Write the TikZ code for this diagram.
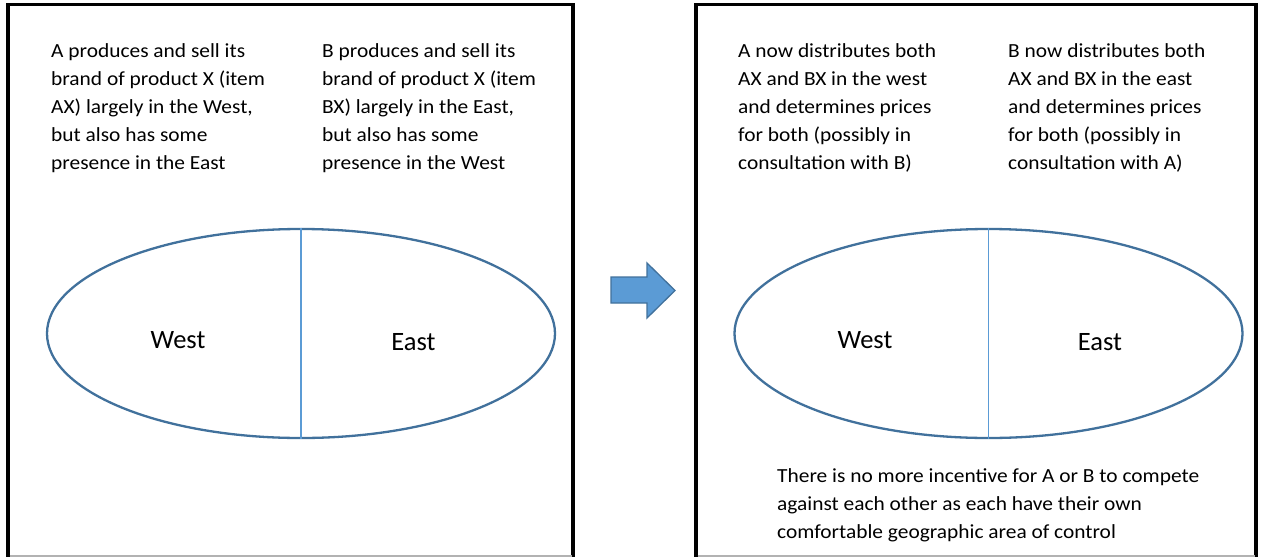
\documentclass[tikz,border=0pt]{standalone}
\usepackage{fontspec}
\setmainfont{Carlito}
\usetikzlibrary{shapes.geometric}
\definecolor{outlineblue}{HTML}{41719C}
\definecolor{fillblue}{HTML}{5B9BD5}
\begin{document}
\begin{tikzpicture}[x=1pt,y=-1pt,
  panel/.style={draw=black,line width=3.5pt},
  region/.style={ellipse,draw=outlineblue,line width=2.3pt,inner sep=0pt,
    minimum width=508pt,minimum height=209pt},
  divider/.style={draw=fillblue,line width=1.3pt},
  para/.style={anchor=base west,align=left,inner sep=0pt,xscale=1.07,
    font=\fontsize{20pt}{28pt}\selectfont},
  side/.style={font=\fontsize{26.5pt}{28pt}\selectfont,inner sep=0pt}]
\useasboundingbox (0,0) rectangle (1264,557);
\fill[white] (0,0) rectangle (1264,557);

% the two panels, open at the bottom with a thin grey edge
\draw[panel] (8,558) -- (8,4.5) -- (573,4.5) -- (573,558);
\draw[panel] (696,558) -- (696,4.5) -- (1256,4.5) -- (1256,558);
\draw[gray!60,line width=1.2pt] (9.5,556) -- (571.5,556);
\draw[gray!60,line width=1.2pt] (697.5,556) -- (1254.5,556);

% before: texts (anchored at the baseline of their last line)
\node[para] (ta) at (51,169) {A produces and sell its\\brand of product X (item\\AX) largely in the West,\\but also has some\\presence in the East};
\node[para] (tb) at (322,169) {B produces and sell its\\brand of product X (item\\BX) largely in the East,\\but also has some\\presence in the West};

% before: map
\node[region] (l) at (301,333.5) {};
\draw[divider] (l.north) -- (l.south);
\node[side,anchor=base] (lw) at (178,348) {West};
\node[side,anchor=base] (le) at (413.5,350) {East};

% transition arrow
\draw[fill=fillblue,draw=outlineblue,line width=1.3pt,line join=miter]
  (611,277) -- (647,277) -- (647,263) -- (675,290.5) -- (647,318) -- (647,303) -- (611,303) -- cycle;

% after: texts
\node[para] (tc) at (738,169) {A now distributes both\\AX and BX in the west\\and determines prices\\for both (possibly in\\consultation with B)};
\node[para] (td) at (1008,169) {B now distributes both\\AX and BX in the east\\and determines prices\\for both (possibly in\\consultation with A)};

% after: map
\node[region] (r) at (988.5,333.5) {};
\draw[divider] (r.north) -- (r.south);
\node[side,anchor=base] (rw) at (865,348) {West};
\node[side,anchor=base] (re) at (1100,350) {East};

\node[para] (tn) at (777,538) {There is no more incentive for A or B to compete\\against each other as each have their own\\comfortable geographic area of control};
\end{tikzpicture}
\end{document}
